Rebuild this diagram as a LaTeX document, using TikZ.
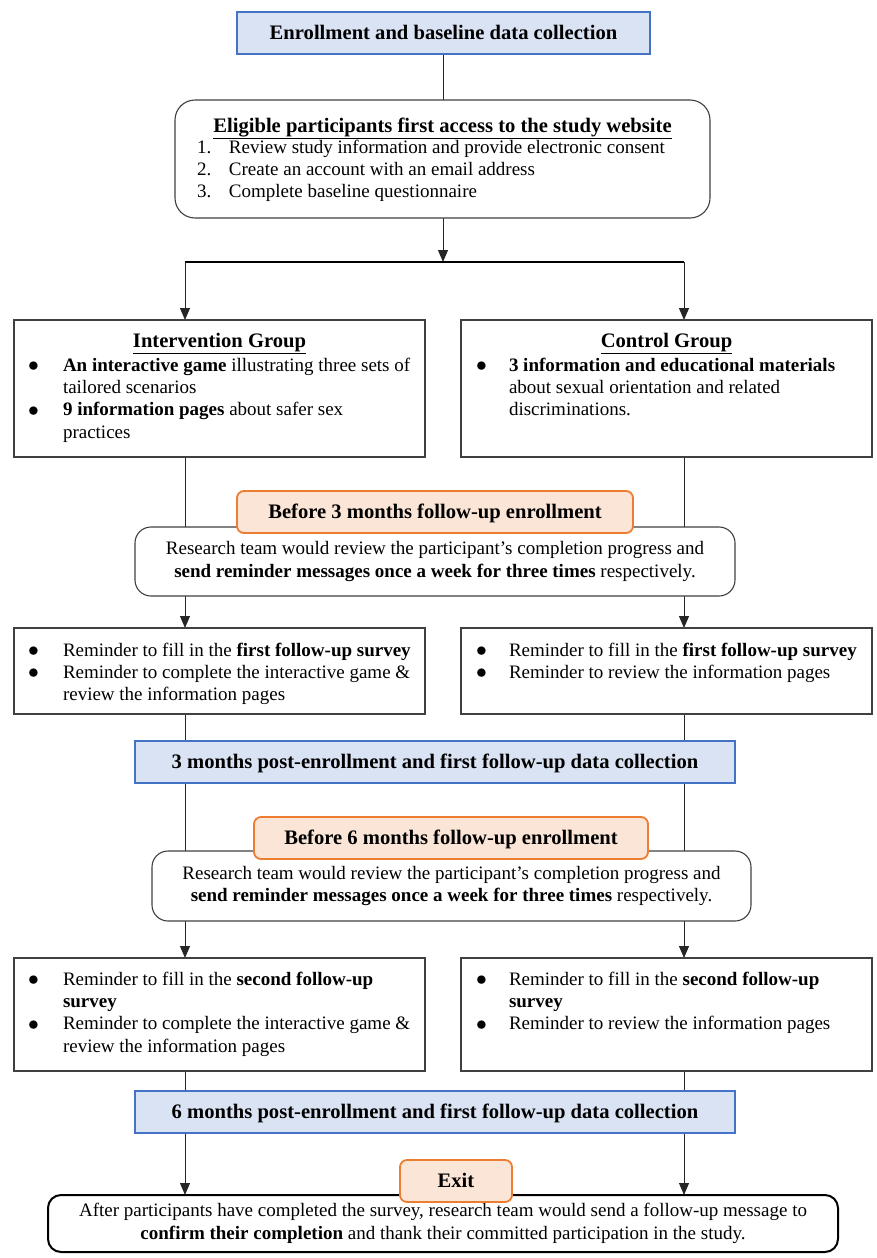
\documentclass[tikz,border=0pt]{standalone}
\usepackage{fontspec}
\usepackage{graphicx}
\setmainfont{Liberation Serif}
\usetikzlibrary{arrows.meta,backgrounds}
\definecolor{bfill}{HTML}{DAE3F3}
\definecolor{bline}{HTML}{4472C4}
\definecolor{ofill}{HTML}{FBE5D6}
\definecolor{oline}{HTML}{ED7D31}
\newcommand\bodyf{\fontsize{19}{22.4}\selectfont}
\newcommand\headf{\fontsize{20.6}{24}\selectfont\bfseries}
\newcommand\bul{\raisebox{-0.5pt}{\scalebox{1.25}{$\bullet$}}}
\begin{document}
\begin{tikzpicture}[x=1pt,y=-1pt,
  every node/.style={inner sep=0pt, outer sep=0pt},
  bluebox/.style={draw=bline, fill=bfill, line width=2pt, font=\headf, text height=15pt, text depth=1.5pt},
  orbox/.style={draw=oline, fill=ofill, line width=1.8pt, rounded corners=7pt, font=\headf, text height=15pt, text depth=1.5pt},
  plainbox/.style={draw=black!75, fill=white, line width=1.1pt},
  roundbox/.style={draw=black!75, fill=white, line width=1.1pt, rounded corners=16pt},
  finalbox/.style={draw=black, fill=white, line width=2pt, rounded corners=13pt},
  txt/.style={font=\bodyf, anchor=base west},
  htxt/.style={font=\headf, anchor=base},
  conn/.style={draw=black!85, line width=1pt},
  arr/.style={conn, -{Triangle[length=12pt,width=10pt]}},
]
\useasboundingbox (0,0) rectangle (877,1258);
\coordinate (colL) at (185,0);
\coordinate (colR) at (684,0);
\coordinate (splitL) at (185,262);
\coordinate (splitM) at (443,262);
\coordinate (splitR) at (684,262);

% top
\node[bluebox, minimum width=413, minimum height=42] (top) at (443.5,33) {Enrollment and baseline data collection};

% eligible
\node[roundbox, rounded corners=20pt, minimum width=535, minimum height=118, anchor=north west] (elig) at (175,100) {};
\node[htxt] (eligT) at (442.5,132) {\underline{Eligible participants first access to the study website}};
\node[txt] (eligL) at (197,153) {\begin{tabular}[t]{@{}p{32pt}@{}l@{}}
1. & Review study information and provide electronic consent\\
2. & Create an account with an email address\\
3. & Complete baseline questionnaire
\end{tabular}};

% groups
\node[plainbox, minimum width=411, minimum height=137, anchor=north west] (intv) at (14,320) {};
\node[htxt] (intvT) at (219.5,347) {\underline{Intervention Group}};
\node[txt] (intvL) at (28,371) {\begin{tabular}[t]{@{}p{35pt}@{}l@{}}
\bul & \textbf{An interactive game} illustrating three sets of\\
 & tailored scenarios\\
\bul & \textbf{9 information pages} about safer sex\\
 & practices
\end{tabular}};
\node[plainbox, minimum width=411, minimum height=137, anchor=north west] (ctrl) at (461,320) {};
\node[htxt] (ctrlT) at (666.5,347) {\underline{Control Group}};
\node[txt] (ctrlL) at (476,371) {\begin{tabular}[t]{@{}p{33pt}@{}l@{}}
\bul & \textbf{3 information and educational materials}\\
 & about sexual orientation and related\\
 & discriminations.
\end{tabular}};

% first reminder round
\node[roundbox, minimum width=600, minimum height=69, anchor=north west, font=\bodyf, align=center] (rt1) at (135,527) {Research team would review the participant’s completion progress and\\ \textbf{send reminder messages once a week for three times} respectively.};
\node[orbox, minimum width=396, minimum height=42] (or1) at (435,512) {Before 3 months follow-up enrollment};

\node[plainbox, minimum width=411, minimum height=86, anchor=north west] (remL1) at (14,628) {};
\node[txt] (remL1T) at (28,656) {\begin{tabular}[t]{@{}p{35pt}@{}l@{}}
\bul & Reminder to fill in the \textbf{first follow-up survey}\\
\bul & Reminder to complete the interactive game \&\\
 & review the information pages
\end{tabular}};
\node[plainbox, minimum width=411, minimum height=86, anchor=north west] (remR1) at (461,628) {};
\node[txt] (remR1T) at (476,656) {\begin{tabular}[t]{@{}p{33pt}@{}l@{}}
\bul & Reminder to fill in the \textbf{first follow-up survey}\\
\bul & Reminder to review the information pages
\end{tabular}};

\node[bluebox, minimum width=600, minimum height=42, anchor=north west] (blue2) at (135,741) {3 months post-enrollment and first follow-up data collection};

% second reminder round
\node[roundbox, minimum width=599, minimum height=70, anchor=north west, font=\bodyf, align=center] (rt2) at (152,851) {Research team would review the participant’s completion progress and\\ \textbf{send reminder messages once a week for three times} respectively.};
\node[orbox, minimum width=394, minimum height=42] (or2) at (451,838) {Before 6 months follow-up enrollment};

\node[plainbox, minimum width=411, minimum height=113, anchor=north west] (remL2) at (14,958) {};
\node[txt] (remL2T) at (28,985) {\begin{tabular}[t]{@{}p{35pt}@{}l@{}}
\bul & Reminder to fill in the \textbf{second follow-up}\\
 & \textbf{survey}\\
\bul & Reminder to complete the interactive game \&\\
 & review the information pages
\end{tabular}};
\node[plainbox, minimum width=411, minimum height=113, anchor=north west] (remR2) at (461,958) {};
\node[txt] (remR2T) at (476,985) {\begin{tabular}[t]{@{}p{33pt}@{}l@{}}
\bul & Reminder to fill in the \textbf{second follow-up}\\
 & \textbf{survey}\\
\bul & Reminder to review the information pages
\end{tabular}};

\node[bluebox, minimum width=600, minimum height=42, anchor=north west] (blue3) at (135,1091) {6 months post-enrollment and first follow-up data collection};

% exit
\node[finalbox, minimum width=790, minimum height=57, anchor=north west, font=\bodyf, align=center] (final) at (48,1195) {After participants have completed the survey, research team would send a follow-up message to\\ \textbf{confirm their completion} and thank their committed participation in the study.};
\node[orbox, minimum width=112, minimum height=42, anchor=north west] (exit) at (400,1160) {Exit};

\begin{scope}[on background layer]
\draw[conn] (top.south) -- (top.south |- elig.north);
\draw[arr] (elig.south -| splitM) -- (splitM);
\draw[conn, draw=black, line width=1.8pt] (splitL) -- (splitR);
\draw[arr] (splitL) -- (intv.north -| splitL);
\draw[arr] (splitR) -- (ctrl.north -| splitR);
\draw[arr] (intv.south -| colL) -- (remL1.north -| colL);
\draw[arr] (ctrl.south -| colR) -- (remR1.north -| colR);
\draw[arr] (remL1.south -| colL) -- (remL2.north -| colL);
\draw[arr] (remR1.south -| colR) -- (remR2.north -| colR);
\draw[conn] (remL2.south -| colL) -- (blue3.north -| colL);
\draw[conn] (remR2.south -| colR) -- (blue3.north -| colR);
\draw[arr] (blue3.south -| colL) -- (final.north -| colL);
\draw[arr] (blue3.south -| colR) -- (final.north -| colR);
\end{scope}
\end{tikzpicture}
\end{document}
